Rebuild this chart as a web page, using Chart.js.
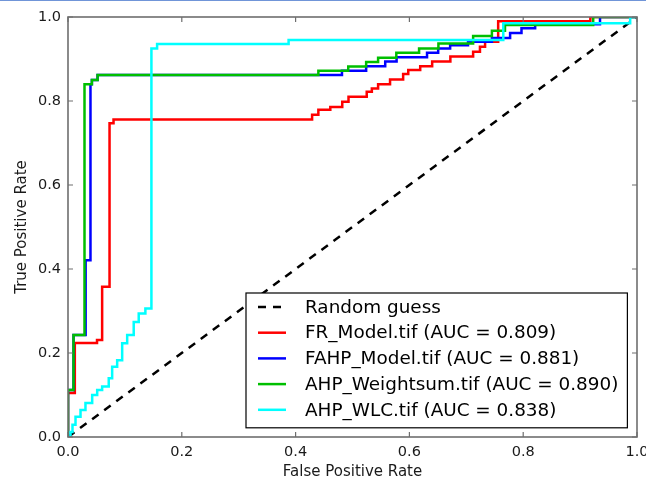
<!DOCTYPE html>
<html>
<head>
<meta charset="utf-8">
<script src="https://cdn.jsdelivr.net/npm/chart.js@4.4.0/dist/chart.umd.min.js"></script>
<style>
  html, body { margin: 0; padding: 0; background: #fff; }
  body { border-top: 1px solid #7095d8; width: 646px; height: 481px; overflow: hidden; }
  canvas { display: block; }
</style>
</head>
<body>
<canvas id="rocChart" width="646" height="481"></canvas>
<script>
//************* DATA (curve runs flat to fpr[i], then rises to tpr[i]) */
const randomFpr = [0, 1];
const randomTpr = [0, 1];

const frFpr = [0, 0, 0.012, 0.051, 0.060, 0.073, 0.080, 0.429, 0.440, 0.461, 0.482, 0.493, 0.525, 0.534, 0.545, 0.566, 0.589, 0.598, 0.619, 0.640, 0.672, 0.712, 0.724, 0.733, 0.756, 0.918, 1.0];
const frTpr = [0, 0.105, 0.224, 0.231, 0.358, 0.747, 0.756, 0.767, 0.779, 0.786, 0.798, 0.810, 0.822, 0.830, 0.840, 0.851, 0.864, 0.874, 0.883, 0.894, 0.906, 0.917, 0.929, 0.941, 0.990, 1.0, 1.0];

const fahpFpr = [0, 0, 0.0097, 0.031, 0.0395, 0.042, 0.052, 0.4815, 0.524, 0.5575, 0.5775, 0.631, 0.6506, 0.6716, 0.703, 0.745, 0.777, 0.797, 0.821, 0.935, 1.0];
const fahpTpr = [0, 0.112, 0.243, 0.421, 0.840, 0.850, 0.862, 0.872, 0.883, 0.894, 0.904, 0.915, 0.925, 0.933, 0.941, 0.950, 0.962, 0.973, 0.983, 1.0, 1.0];

const ahpWsFpr = [0, 0, 0.0097, 0.029, 0.042, 0.052, 0.440, 0.4925, 0.524, 0.545, 0.577, 0.617, 0.651, 0.712, 0.745, 0.768, 0.923, 1.0];
const ahpWsTpr = [0, 0.112, 0.243, 0.840, 0.850, 0.862, 0.872, 0.882, 0.893, 0.903, 0.915, 0.925, 0.937, 0.955, 0.967, 0.981, 1.0, 1.0];

const ahpWlcFpr = [0, 0.0044, 0.0079, 0.0132, 0.022, 0.0307, 0.0425, 0.0513, 0.060, 0.0716, 0.0776, 0.0864, 0.0952, 0.104, 0.1155, 0.1243, 0.136, 0.1466, 0.1566, 0.3877, 0.765, 0.988, 1.0];
const ahpWlcTpr = [0, 0.012, 0.029, 0.048, 0.064, 0.081, 0.100, 0.112, 0.120, 0.140, 0.167, 0.183, 0.223, 0.243, 0.274, 0.294, 0.306, 0.925, 0.936, 0.945, 0.985, 1.0, 1.0];

const seriesLabels = ['Random guess', 'FR_Model.tif (AUC = 0.809)', 'FAHP_Model.tif (AUC = 0.881)', 'AHP_Weightsum.tif (AUC = 0.890)', 'AHP_WLC.tif (AUC = 0.838)'];
const seriesColors = ['#000000', '#ff0000', '#0000ff', '#00bf00', '#00ffff'];

const xTickValues = [0, 0.2, 0.4, 0.6, 0.8, 1.0];
const yTickValues = [0, 0.2, 0.4, 0.6, 0.8, 1.0];

function toPoints(xs, ys) {
  var pts = [];
  for (var i = 0; i < xs.length; i++) pts.push({ x: xs[i], y: ys[i] });
  return pts;
}

//************* frame + inward ticks like matplotlib */
const framePlugin = {
  id: 'frame',
  afterDatasetsDraw(chart) {
    const { ctx, chartArea: a, scales } = chart;
    ctx.save();
    ctx.strokeStyle = '#6e6e6e';
    ctx.lineWidth = 1.6;
    ctx.strokeRect(a.left, a.top, a.right - a.left, a.bottom - a.top);
    ctx.lineWidth = 1.2;
    ctx.beginPath();
    xTickValues.forEach(v => {
      const px = scales.x.getPixelForValue(v);
      ctx.moveTo(px, a.bottom); ctx.lineTo(px, a.bottom - 5);
      ctx.moveTo(px, a.top); ctx.lineTo(px, a.top + 5);
    });
    yTickValues.forEach(v => {
      const py = scales.y.getPixelForValue(v);
      ctx.moveTo(a.left, py); ctx.lineTo(a.left + 5, py);
      ctx.moveTo(a.right, py); ctx.lineTo(a.right - 5, py);
    });
    ctx.stroke();
    ctx.restore();
  }
};

//************* legend box in lower right corner */
const legendPlugin = {
  id: 'legendBox',
  afterDatasetsDraw(chart) {
    const { ctx, chartArea: a } = chart;
    const items = chart.data.datasets;
    ctx.save();
    ctx.font = '18.4px "DejaVu Sans"';
    var maxW = 0;
    items.forEach(d => { maxW = Math.max(maxW, ctx.measureText(d.label).width); });
    const rowH = 25.7;
    const boxW = 59 + maxW + 9;
    const boxH = 14 + rowH * (items.length - 1) + 18;
    const x0 = Math.round(a.right - 10 - boxW);
    const y0 = Math.round(a.bottom - 9 - boxH);
    ctx.fillStyle = '#fff';
    ctx.fillRect(x0, y0, boxW, boxH);
    ctx.strokeStyle = '#000';
    ctx.lineWidth = 1.2;
    ctx.strokeRect(x0, y0, boxW, boxH);
    items.forEach((d, i) => {
      const cy = y0 + 14 + i * rowH;
      ctx.beginPath();
      ctx.setLineDash(d.borderDash || []);
      ctx.strokeStyle = d.borderColor;
      ctx.lineWidth = d.borderWidth;
      ctx.moveTo(x0 + 12, cy);
      ctx.lineTo(x0 + 40, cy);
      ctx.stroke();
      ctx.setLineDash([]);
      ctx.fillStyle = '#000';
      ctx.textBaseline = 'middle';
      ctx.textAlign = 'left';
      ctx.fillText(d.label, x0 + 59, cy + 1);
    });
    ctx.restore();
  }
};

const allFpr = [randomFpr, frFpr, fahpFpr, ahpWsFpr, ahpWlcFpr];
const allTpr = [randomTpr, frTpr, fahpTpr, ahpWsTpr, ahpWlcTpr];

var datasets = seriesLabels.map((label, i) => ({
  label: label,
  data: toPoints(allFpr[i], allTpr[i]),
  showLine: true,
  stepped: i === 0 ? false : 'before',
  borderColor: seriesColors[i],
  backgroundColor: seriesColors[i],
  borderWidth: 2.5,
  borderDash: i === 0 ? [8, 7] : [],
  pointRadius: 0,
  fill: false,
  order: seriesLabels.length - i
}));

const tickFont = { family: 'DejaVu Sans', size: 14.5 };
const titleFont = { family: 'DejaVu Sans', size: 15 };

var ctx = document.getElementById('rocChart').getContext('2d');
var chart = new Chart(ctx, {
  type: 'scatter',
  data: { datasets: datasets },
  options: {
    responsive: false,
    animation: false,
    layout: { padding: { top: 16, right: 9, left: 0, bottom: 0 } },
    plugins: { legend: { display: false }, tooltip: { enabled: false } },
    scales: {
      x: {
        type: 'linear', min: 0, max: 1,
        afterBuildTicks: s => { s.ticks = xTickValues.map(v => ({ value: v })); },
        afterFit: s => { s.height = 45; s.paddingLeft = 0; s.paddingRight = 0; },
        grid: { display: false, drawTicks: false },
        border: { display: false },
        ticks: { font: tickFont, color: '#1a1a1a', padding: 7, maxRotation: 0, callback: v => v.toFixed(1) },
        title: { display: true, text: 'False Positive Rate', font: titleFont, color: '#1a1a1a', padding: { top: 0, bottom: 1 } }
      },
      y: {
        type: 'linear', min: 0, max: 1,
        afterBuildTicks: s => { s.ticks = yTickValues.map(v => ({ value: v })); },
        afterFit: s => { s.width = 68; s.paddingTop = 0; s.paddingBottom = 0; },
        grid: { display: false, drawTicks: false },
        border: { display: false },
        ticks: { font: tickFont, color: '#1a1a1a', padding: 7, callback: v => v.toFixed(1) },
        title: { display: true, text: 'True Positive Rate', font: titleFont, color: '#1a1a1a', padding: { top: 13, bottom: 0 } }
      }
    }
  },
  plugins: [framePlugin, legendPlugin]
});
</script>
</body>
</html>
